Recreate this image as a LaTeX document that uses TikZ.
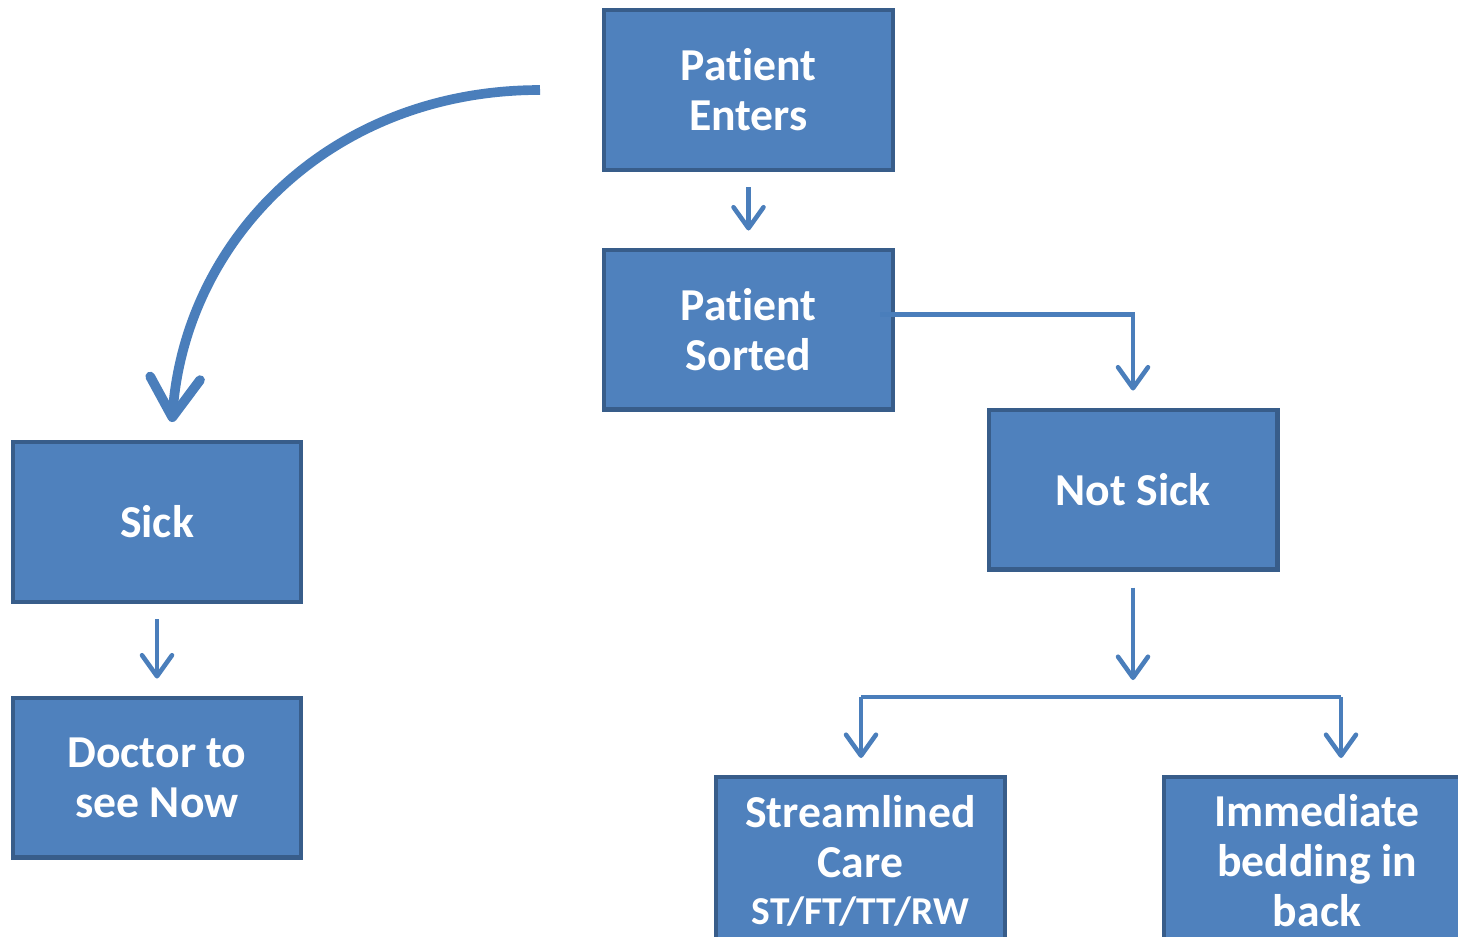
\documentclass[tikz,border=0pt]{standalone}
\usepackage{fontspec}
\setmainfont{Carlito}[Ligatures=NoCommon]
\usetikzlibrary{arrows.meta, positioning, calc}
\definecolor{boxfill}{RGB}{79,129,189}
\definecolor{boxline}{RGB}{56,93,138}
\definecolor{arrblue}{RGB}{74,126,187}
\tikzset{
  flowbox/.style={draw=boxline, fill=boxfill, line width=2.3pt,
                  minimum width=5.78cm, minimum height=3.2cm, align=center,
                  text=white, font=\fontsize{26}{28.5}\selectfont\bfseries,
                  inner sep=0pt},
  arr/.style={draw=arrblue, line width=2.6pt,
              -{Straight Barb[length=0.42cm, width=0.6cm, round]}},
  bigarr/.style={draw=arrblue, line width=5.5pt,
                 -{Straight Barb[length=0.78cm, width=1.0cm, round]}},
  link/.style={draw=arrblue, line width=2.6pt},
}

\begin{document}
\begin{tikzpicture}[x=0.02cm, y=-0.02cm]
  \clip (0,0) rectangle (1458,937);

  % boxes
  \node[flowbox] (enters) at (748.5,90) {Patient\\Enters};
  \node[flowbox] (sorted) at (748.5,329.5) {Patient\\Sorted};
  \node[flowbox] (sick) at (157,522) {Sick};
  \node[flowbox] (doctor) at (157,777.5) {Doctor to\\see Now};
  \node[flowbox] (notsick) at (1133,489.5) {Not Sick};
  \node[flowbox, minimum height=3.36cm] (stream) at (860.5,861)
    {Streamlined\\Care\\[-2pt]{\fontsize{22.5}{26}\selectfont ST/FT/TT/RW}};
  \node[flowbox, minimum width=6.12cm, minimum height=3.36cm] (bedding) at (1317,861)
    {Immediate\\bedding in\\back};

  % helper points
  \coordinate (curvestart) at (540,90);
  \coordinate (split) at (1133,697);
  \coordinate (splitL) at (861,697);
  \coordinate (splitR) at (1341,697);
  \coordinate (lowtip) at ([yshift=0.34cm]stream.north);

  % straight arrows
  \draw[arr] ([yshift=-0.3cm]enters.south) -- ([yshift=0.34cm]sorted.north);
  \draw[arr] ([yshift=-0.3cm]sick.south) -- ([yshift=0.34cm]doctor.north);
  \draw[arr] ([yshift=-0.32cm]notsick.south) -- ([yshift=0.34cm]split);

  % elbow from sorted to not sick
  \draw[arr] ([xshift=-0.3cm, yshift=0.3cm]sorted.east) -| ([yshift=0.34cm]notsick.north);

  % split to the two lower boxes
  \draw[link] (splitL) -- (splitR);
  \draw[arr] (splitL) -- (splitL |- lowtip);
  \draw[arr] (splitR) -- (splitR |- lowtip);

  % curved arrow to sick
  \draw[bigarr] (curvestart) .. controls (330,90) and (185,240)
    .. ([xshift=0.3cm, yshift=0.36cm]sick.north);
\end{tikzpicture}
\end{document}
